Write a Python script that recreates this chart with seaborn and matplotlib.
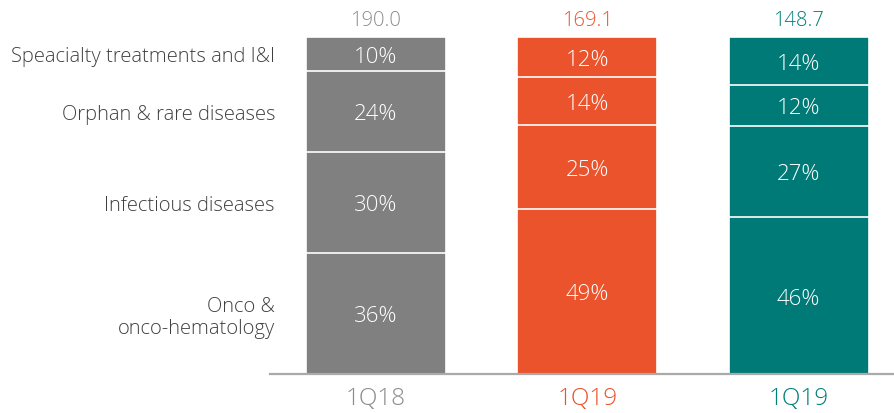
import matplotlib
matplotlib.use("Agg")
import matplotlib.pyplot as plt
import seaborn as sns
import pandas as pd
import numpy as np

# ---- data ----
periods = ["1Q18", "1Q19", "1Q19"]
totals = ["190.0", "169.1", "148.7"]
# segments from bottom to top
categories = ["Onco &\nonco-hematology", "Infectious diseases",
              "Orphan & rare diseases", "Speacialty treatments and I&I"]
onco = [36, 49, 46]
infectious = [30, 25, 27]
orphan = [24, 14, 12]
specialty = [10, 12, 14]
bar_colors = ["#808080", "#EA532B", "#007A76"]
text_colors = ["#8C8C8C", "#EA532B", "#00807A"]

sns.set_theme(style="white")
plt.rcParams["font.family"] = ["Open Sans", "DejaVu Sans"]
W = 300

fig = plt.figure(figsize=(8.95, 4.14), dpi=100)
ax = fig.add_axes([270 / 895, 39 / 414, 625 / 895, 337 / 414])

segs = np.array([onco, infectious, orphan, specialty], dtype=float)
segs_norm = segs / segs.sum(axis=0) * 100
cum = np.cumsum(segs_norm, axis=0)
ids = ["b0", "b1", "b2"]

# overdraw cumulative bars from top to bottom
for level in range(len(categories) - 1, -1, -1):
    df = pd.DataFrame({"bar": ids, "val": cum[level]})
    sns.barplot(data=df, x="bar", y="val", hue="bar", palette=bar_colors,
                order=ids, hue_order=ids, legend=False, errorbar=None,
                saturation=1, width=140 / 211.5, edgecolor="white",
                linewidth=1.2, ax=ax)

ax.set_xlim(-0.5, -0.5 + 625 / 211.5)
ax.set_ylim(0, 100)

# percent labels
for i in range(3):
    for level in range(len(categories)):
        bottom = cum[level - 1][i] if level > 0 else 0
        mid = bottom + segs_norm[level][i] / 2
        ax.text(i, mid, f"{int(segs[level][i])}%", ha="center",
                va="center_baseline", color="white", fontsize=16,
                fontweight=W)
    ax.text(i, 100 + 2.0, totals[i], ha="center", va="bottom",
            color=text_colors[i], fontsize=14.5, fontweight=W, clip_on=False)

# category labels aligned with first bar
for level, cat in enumerate(categories):
    bottom = cum[level - 1][0] if level > 0 else 0
    mid = bottom + segs_norm[level][0] / 2
    ax.text(-0.5 + 5 / 211.5, mid, cat, ha="right", va="center_baseline",
            color="#404040", fontsize=14.5, fontweight=W, linespacing=1.15,
            clip_on=False)

ax.set_xlabel("")
ax.set_ylabel("")
ax.set_yticks([])
ax.set_xticks(range(3))
ax.set_xticklabels(periods, fontsize=17.5, fontweight=W)
for lab, c in zip(ax.get_xticklabels(), text_colors):
    lab.set_color(c)
ax.tick_params(axis="x", length=0, pad=9)
for s in ["top", "right", "left"]:
    ax.spines[s].set_visible(False)
ax.spines["bottom"].set_color("#AAAAAA")
ax.spines["bottom"].set_linewidth(1.6)
ax.patch.set_alpha(0)

fig.savefig("out.png", dpi=100)
